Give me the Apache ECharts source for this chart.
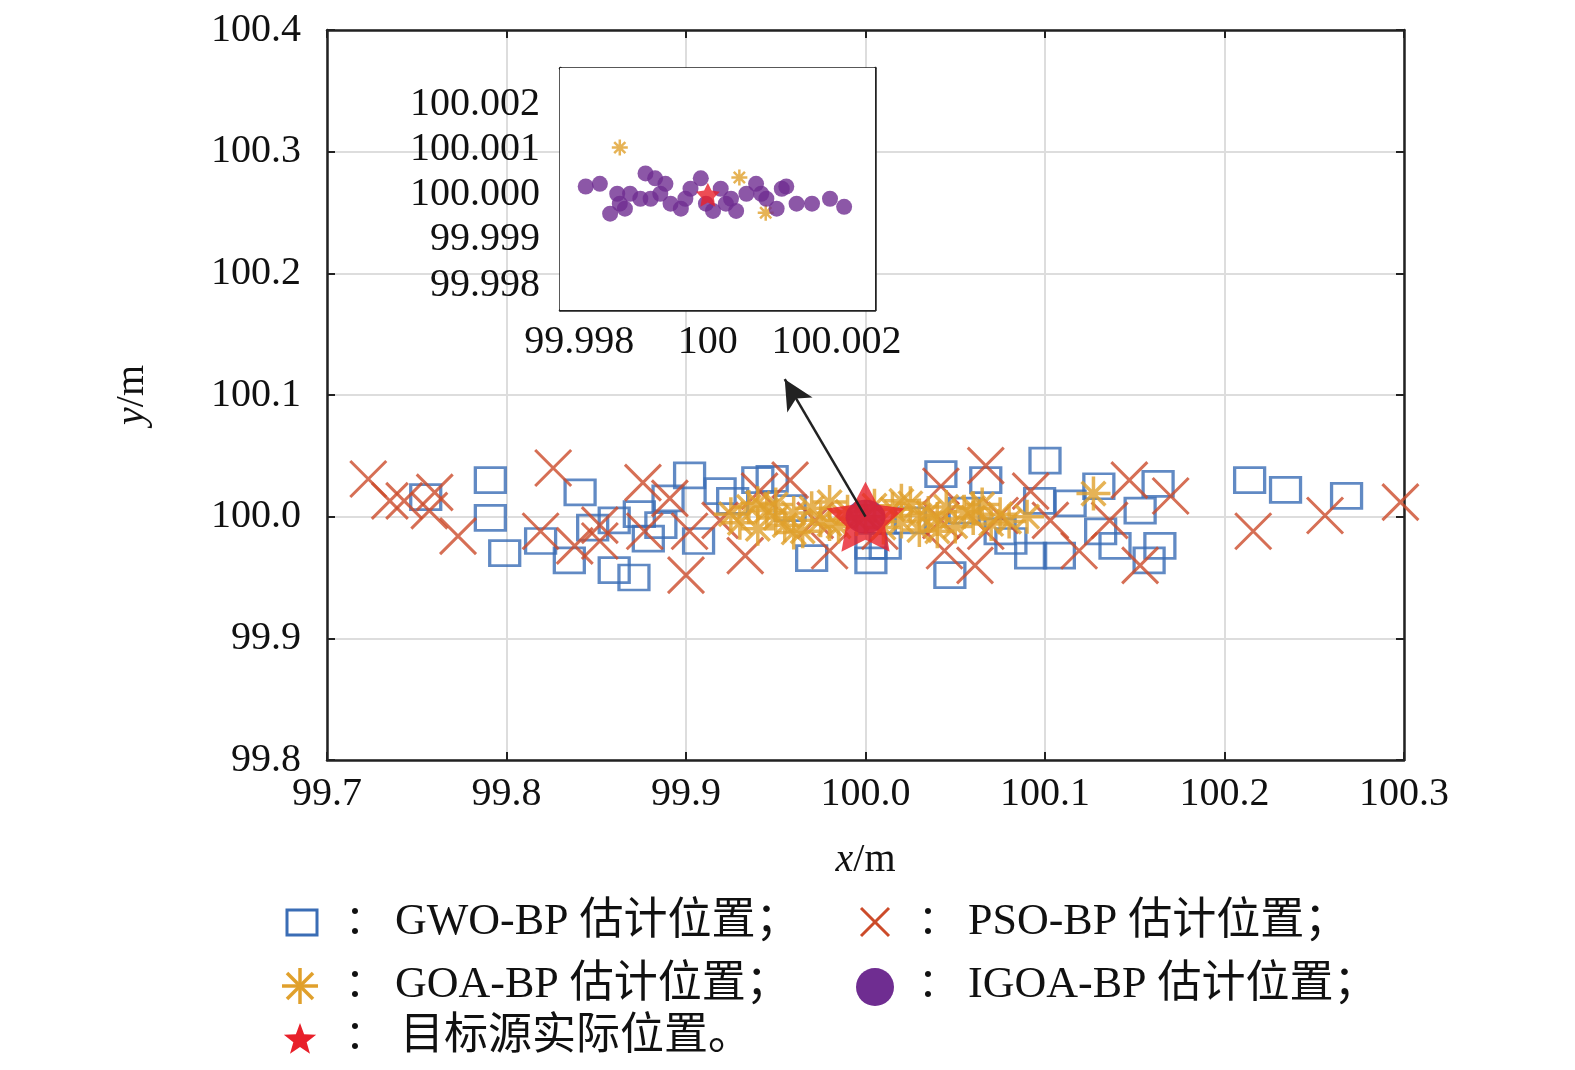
<!DOCTYPE html><html><head><meta charset="utf-8">
<script src="https://cdn.jsdelivr.net/npm/echarts@6/dist/echarts.min.js"></script>
<style>html,body{margin:0;background:#fff}#c{width:1575px;height:1070px}</style></head><body><div id="c"></div>
<script>
const gwo=[[99.755,100.016],[99.791,100.030],[99.791,99.999],[99.799,99.970],[99.819,99.980],[99.835,99.964],[99.841,100.020],[99.848,99.991],[99.860,99.956],[99.871,99.950],[99.874,100.002],[99.879,99.982],[99.890,100.015],[99.902,100.034],[99.907,99.980],[99.919,100.021],[99.926,100.013],[99.940,100.030],[99.948,100.031],[99.958,100.007],[99.970,99.966],[100.003,99.976],[100.011,99.976],[100.042,100.035],[100.047,99.952],[100.067,100.030],[100.100,100.046],[100.097,100.013],[100.092,99.968],[100.108,99.968],[100.114,100.011],[100.130,100.025],[100.139,99.976],[100.153,100.005],[100.163,100.027],[100.158,99.964],[100.164,99.976],[100.214,100.030],[100.234,100.022],[100.268,100.017],[100.055,100.005],[100.075,99.988],[100.025,99.997],[100.081,99.980],[100.131,99.988],[99.886,99.993],[99.860,99.997],[100.003,99.964]];
const pso=[[99.723,100.031],[99.735,100.013],[99.743,100.013],[99.760,100.020],[99.757,100.005],[99.773,99.984],[99.826,100.040],[99.819,99.988],[99.838,99.976],[99.852,99.993],[99.876,100.028],[99.877,99.988],[99.900,99.952],[99.891,100.015],[99.902,99.988],[99.933,99.968],[99.941,100.021],[99.958,100.030],[99.980,99.972],[99.972,99.997],[100.042,100.025],[100.044,99.972],[100.061,99.960],[100.067,100.042],[100.075,100.001],[100.092,100.021],[100.119,99.972],[100.136,99.997],[100.147,100.030],[100.153,99.960],[100.170,100.017],[100.216,99.988],[100.256,100.001],[100.298,100.012],[100.042,99.997],[100.067,99.988],[100.103,99.997],[99.919,99.997],[99.852,99.980],[100.008,99.988]];
const goaX=[99.925,99.93,99.935,99.94,99.945,99.95,99.955,99.96,99.965,99.97,99.975,99.98,99.985,99.99,99.995,100.005,100.01,100.015,100.02,100.025,100.03,100.035,100.04,100.045,100.05,100.055,100.06,100.065,100.07,100.075,100.08,100.09,100.127,99.94,99.96,99.98,100.02,100.04,100.06,99.95,100.0,100.03];
const goaY=[100.002,99.995,100.008,99.990,100.005,100.010,99.993,100.003,99.988,100.007,99.997,100.012,99.992,100.004,99.998,100.009,99.991,100.006,99.996,100.011,99.989,100.003,99.998,100.008,99.992,100.004,99.999,100.010,99.994,100.002,99.996,100.000,100.019,100.011,99.987,99.994,100.013,99.988,100.007,99.999,100.0,100.001];
const goaInset=[[99.99863,100.00104],[100.00049,100.00038],[100.0009,99.9996]];
const igoaX=[99.99810,99.99832,99.99848,99.99863,99.99879,99.99903,99.99918,99.99895,99.99926,99.99942,99.99958,99.99973,99.99989,99.99997,100.00008,100.00020,100.00036,100.00044,100.00060,100.00075,100.00091,100.00107,100.00122,100.00138,100.00162,100.00190,100.00212,99.99871,99.99911,99.99934,99.99965,100.00028,100.00083,100.00115,99.99859];
const igoaY=[100.00018,100.00024,99.99958,99.99980,100.00002,100.00047,100.00036,99.99991,100.00002,99.99980,99.99969,100.00013,100.00036,99.99980,99.99964,100.00013,99.99991,99.99964,100.00002,100.00024,99.99991,99.99969,100.00018,99.99980,99.99980,99.99991,99.99973,99.99969,99.99991,100.00024,99.99991,99.99980,100.00002,100.00013,100.00002];
const target=[100,100];
const xTicks=[99.7,99.8,99.9,100.0,100.1,100.2,100.3];
const yTicks=[99.8,99.9,100.0,100.1,100.2,100.3,100.4];
const insetXTicks=[99.998,100,100.002];
const insetYTicks=[99.998,99.999,100.000,100.001,100.002];

const F='"Liberation Serif","Times New Roman",serif';
const C='"Liberation Serif","Noto Sans CJK SC",serif';
const igoa=igoaX.map((x,i)=>[x,igoaY[i]]);
const goa=goaX.map((x,i)=>[x,goaY[i]]);
const AST='path://M0,-10L0,10M-10,0L10,0M-7,-7L7,7M-7,7L7,-7';
const XS='path://M-10,-10L10,10M-10,10L10,-10';
const STAR='path://M0,-10L2.94,-4.05L9.51,-3.09L4.76,1.55L5.88,8.09L0,5L-5.88,8.09L-4.76,1.55L-9.51,-3.09L-2.94,-4.05Z';
const starPts=[];for(let k=0;k<10;k++){const r=k%2?7:17,a=-Math.PI/2+k*Math.PI/5;starPts.push([300+r*Math.cos(a),1040+r*Math.sin(a)]);}
const ch=echarts.init(document.getElementById('c'));
const line={lineStyle:{color:'#222',width:2.5}};
const tick={inside:true,length:8,lineStyle:{color:'#222',width:2}};
const txt=(x,y,t,s)=>({type:'text',x:x,y:y,style:{text:t,font:(s||44)+'px '+C,fill:'#111',verticalAlign:'middle'}});
const ln=(x1,y1,x2,y2,c,w)=>({type:'line',shape:{x1,y1,x2,y2},style:{stroke:c,lineWidth:w}});
ch.setOption({
animation:false,
grid:[{left:327,top:30,width:1077,height:730},{left:560,top:68,width:315,height:242,z:10,backgroundColor:'#fff',show:true,borderWidth:0}],
xAxis:[
{gridIndex:0,type:'value',min:99.7,max:100.3,interval:0.1,axisLine:line,axisTick:tick,
 splitLine:{lineStyle:{color:'#ddd',width:2}},axisLabel:{fontFamily:F,fontSize:40,color:'#111',margin:14,formatter:v=>v.toFixed(1)},
 name:'{i|x}/m',nameLocation:'middle',nameGap:80,nameTextStyle:{fontFamily:F,fontSize:40,color:'#111',rich:{i:{fontStyle:'italic',fontFamily:F,fontSize:40}}}},
{gridIndex:0,type:'value',position:'top',min:99.7,max:100.3,interval:0.1,axisLine:line,axisTick:tick,axisLabel:{show:false},splitLine:{show:false}},
{gridIndex:1,type:'value',min:99.9977,max:100.0026,axisLine:{onZero:false,lineStyle:{color:'#222',width:2.5}},axisTick:{show:false},splitLine:{show:false},
 axisLabel:{customValues:insetXTicks,fontFamily:F,fontSize:40,color:'#111',margin:12,formatter:v=>Math.abs(v-100)<1e-9?'100':v.toFixed(3)}},
{gridIndex:1,type:'value',position:'top',min:99.9977,max:100.0026,axisLine:{onZero:false,lineStyle:{color:'#222',width:2.5}},axisTick:{show:false},axisLabel:{show:false},splitLine:{show:false}}
],
yAxis:[
{gridIndex:0,type:'value',min:99.8,max:100.4,interval:0.1,axisLine:line,axisTick:tick,
 splitLine:{lineStyle:{color:'#ddd',width:2}},axisLabel:{fontFamily:F,fontSize:40,color:'#111',margin:26,formatter:v=>v.toFixed(1)},
 name:'{i|y}/m',nameLocation:'middle',nameGap:175,nameTextStyle:{fontFamily:F,fontSize:40,color:'#111',rich:{i:{fontStyle:'italic',fontFamily:F,fontSize:40}}}},
{gridIndex:0,type:'value',position:'right',min:99.8,max:100.4,interval:0.1,axisLine:line,axisTick:tick,axisLabel:{show:false},splitLine:{show:false}},
{gridIndex:1,type:'value',min:99.99745,max:100.0028,axisLine:{onZero:false,lineStyle:{color:'#222',width:2.5}},axisTick:{show:false},splitLine:{show:false},
 axisLabel:{customValues:insetYTicks,fontFamily:F,fontSize:40,color:'#111',margin:20,formatter:v=>v.toFixed(3)}},
{gridIndex:1,type:'value',position:'right',min:99.99745,max:100.0028,axisLine:{onZero:false,lineStyle:{color:'#222',width:2.5}},axisTick:{show:false},axisLabel:{show:false},splitLine:{show:false}}
],
series:[
{type:'scatter',xAxisIndex:0,yAxisIndex:0,data:gwo,symbol:'rect',symbolSize:[30,25],itemStyle:{color:'rgba(0,0,0,0)',borderColor:'#3a6db5',borderWidth:3}},
{type:'scatter',xAxisIndex:0,yAxisIndex:0,data:pso,symbol:XS,symbolSize:36,itemStyle:{color:'rgba(0,0,0,0)',borderColor:'#cc4b2a',borderWidth:3}},
{type:'scatter',xAxisIndex:0,yAxisIndex:0,data:goa,symbol:AST,symbolSize:34,itemStyle:{color:'rgba(0,0,0,0)',borderColor:'#e0a02c',borderWidth:3.5}},
{type:'scatter',xAxisIndex:0,yAxisIndex:0,data:[target],symbol:'circle',symbolSize:[40,34],itemStyle:{color:'#6f2d91'}},
{type:'scatter',xAxisIndex:0,yAxisIndex:0,data:[target],symbol:STAR,symbolSize:[78,70],itemStyle:{color:'#e8202a'},
 markLine:{silent:true,symbol:['none','arrow'],symbolSize:[22,30],label:{show:false},lineStyle:{color:'#222',width:2.5,type:'solid'},data:[[{coord:[100.0,100.0]},{coord:[99.955,100.113]}]]}},
{type:'scatter',xAxisIndex:2,yAxisIndex:2,z:12,data:goaInset,symbol:AST,symbolSize:16,itemStyle:{color:'rgba(0,0,0,0)',borderColor:'#e0a02c',borderWidth:2.5}},
{type:'scatter',xAxisIndex:2,yAxisIndex:2,z:12,data:igoa,symbol:'circle',symbolSize:16,itemStyle:{color:'#6f2d91'}},
{type:'scatter',xAxisIndex:2,yAxisIndex:2,z:13,data:[target],symbol:STAR,symbolSize:24,itemStyle:{color:'#e8202a'}}
],
graphic:[
{type:'rect',shape:{x:287,y:910,width:30,height:25},style:{fill:'none',stroke:'#3a6db5',lineWidth:3}},
ln(861,908,889,936,'#cc4b2a',3),ln(861,936,889,908,'#cc4b2a',3),
ln(300,968,300,1004,'#e0a02c',3.5),ln(282,986,318,986,'#e0a02c',3.5),ln(287,973,313,999,'#e0a02c',3.5),ln(287,999,313,973,'#e0a02c',3.5),
{type:'circle',shape:{cx:875,cy:987,r:19},style:{fill:'#6f2d91'}},
{type:'polygon',shape:{points:starPts},style:{fill:'#e8202a'}},
txt(345,922,'：',40),txt(395,922,'GWO-BP 估计位置；'),txt(918,922,'：',40),txt(968,922,'PSO-BP 估计位置；'),
txt(345,985,'：',40),txt(395,985,'GOA-BP 估计位置；'),txt(918,985,'：',40),txt(968,985,'IGOA-BP 估计位置；'),
txt(345,1037,'：',40),txt(400,1037,'目标源实际位置。')
]
});
</script></body></html>
